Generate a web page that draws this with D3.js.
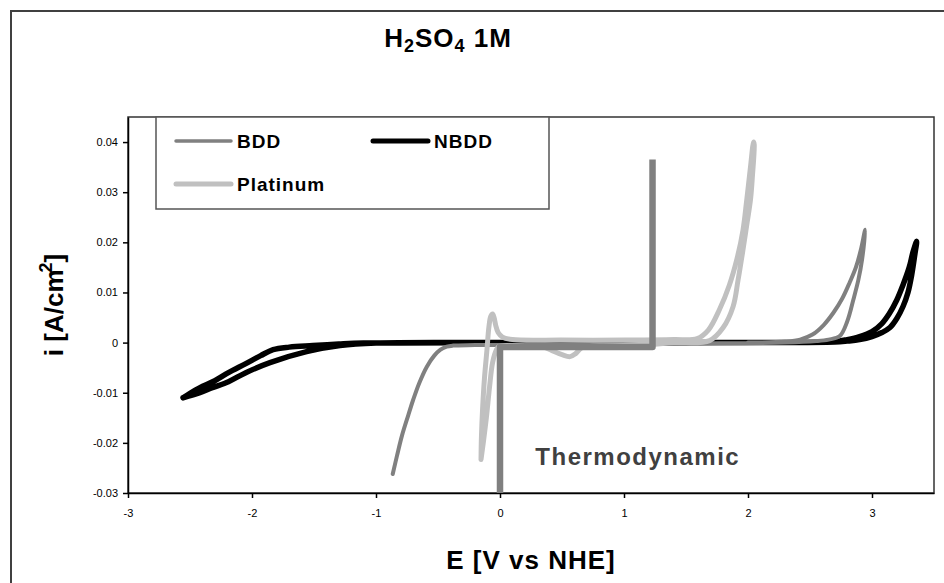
<!DOCTYPE html>
<html>
<head>
<meta charset="utf-8">
<script src="https://cdn.jsdelivr.net/npm/d3@7"></script>
<style>
  body { margin: 0; background: #fff; }
  svg { display: block; font-family: "Liberation Sans", Arial, sans-serif; }
  .axis text { font-size: 11px; fill: #000; }
  .axis path, .axis line { stroke: #000; stroke-width: 1.5; }
</style>
</head>
<body>
<div id="chart"></div>
<script>
"use strict";

// E [V vs NHE], i [A/cm2] pairs
var bddCurve = [
  [-0.865, -0.0262], [-0.83, -0.0225], [-0.79, -0.0185], [-0.74, -0.0145], [-0.70, -0.0114],
  [-0.65, -0.0080], [-0.59, -0.0048], [-0.53, -0.0026], [-0.48, -0.0014], [-0.43, -0.0008],
  [-0.38, -0.0006], [-0.2, -0.0005], [0.5, -0.0004], [1.5, -0.0002], [2.3, 0.0],
  [2.55, 0.0003], [2.65, 0.0006], [2.74, 0.0013], [2.80, 0.0042], [2.85, 0.0086],
  [2.89, 0.0125], [2.92, 0.0166], [2.945, 0.0225],
  [2.91, 0.0185], [2.87, 0.0150], [2.82, 0.0120], [2.76, 0.0088], [2.69, 0.0060],
  [2.61, 0.0035], [2.52, 0.0016], [2.42, 0.0006], [2.3, 0.0002], [2.0, 0.0]
];

var nbddCurve = [
  [-2.556, -0.0110], [-2.5, -0.0101], [-2.42, -0.0090], [-2.3, -0.0076], [-2.19, -0.0060],
  [-2.05, -0.0042], [-1.93, -0.0026], [-1.83, -0.0014], [-1.7, -0.0009], [-1.51, -0.0006],
  [-1.3, -0.0003], [-1.1, -0.0001], [0, 0], [1, 0], [2, 0], [2.7, 0.0001],
  [2.8, 0.0003], [2.9, 0.0006], [3.0, 0.0012], [3.08, 0.0020], [3.145, 0.0030],
  [3.2, 0.0048], [3.25, 0.0072], [3.29, 0.0100], [3.32, 0.0135], [3.345, 0.0175],
  [3.36, 0.0202],
  [3.33, 0.0180], [3.30, 0.0150], [3.25, 0.0115], [3.20, 0.0085], [3.14, 0.0058],
  [3.08, 0.0038], [3.0, 0.0022], [2.9, 0.0012], [2.8, 0.0006], [2.7, 0.0002],
  [2, 0], [0, 0], [-1.0, -0.0001],
  [-1.29, -0.0006], [-1.56, -0.0018], [-1.855, -0.0040], [-2.05, -0.0060],
  [-2.19, -0.0078], [-2.32, -0.0090], [-2.42, -0.0100], [-2.556, -0.0110]
];

var platinumCurve = [
  [-0.153, -0.0233], [-0.15, -0.0190], [-0.14, -0.0130], [-0.125, -0.0070], [-0.105, -0.0014],
  [-0.09, 0.0030], [-0.075, 0.0052], [-0.06, 0.0057], [-0.048, 0.0050], [-0.035, 0.0035],
  [-0.015, 0.0020], [0.02, 0.0011], [0.1, 0.0006], [0.5, 0.0005], [1.0, 0.0005],
  [1.4, 0.0006], [1.59, 0.0008], [1.68, 0.0025], [1.77, 0.0066], [1.85, 0.0115],
  [1.91, 0.0166], [1.96, 0.0225], [1.99, 0.0285], [2.02, 0.0350], [2.045, 0.0400],
  [2.05, 0.0395], [2.035, 0.0330], [2.02, 0.0285], [1.99, 0.0235], [1.96, 0.0186],
  [1.92, 0.0125], [1.88, 0.0072], [1.80, 0.0030], [1.69, 0.0004], [1.4, 0.0],
  [1.2, -0.0004], [0.8, -0.0007], [0.66, -0.0010], [0.61, -0.0022], [0.565, -0.0028],
  [0.5, -0.0024], [0.42, -0.0016], [0.35, -0.0009], [0.2, -0.0008], [0.05, -0.0006],
  [-0.01, -0.0008], [-0.03, -0.0015], [-0.06, -0.0040], [-0.085, -0.0090],
  [-0.11, -0.0150], [-0.135, -0.0200], [-0.153, -0.0233]
];

var thermoLine = [[0, -0.03], [0, -0.0009], [1.23, -0.0009], [1.23, 0.0365]];

var xTicks = [-3, -2, -1, 0, 1, 2, 3];
var yTicks = [-0.03, -0.02, -0.01, 0, 0.01, 0.02, 0.03, 0.04];

var legendItems = [
  { name: "BDD", color: "#808080", width: 3.5 },
  { name: "NBDD", color: "#000000", width: 5 },
  { name: "Platinum", color: "#c0c0c0", width: 5 }
];

var W = 944, H = 583;
var margin = { top: 117, right: 10, bottom: 90, left: 128 },
  width = W - margin.left - margin.right,
  height = H - margin.top - margin.bottom;

var svg = d3.select("#chart").append("svg")
  .attr("width", W)
  .attr("height", H);

// outer chart frame (runs off the right and bottom edge)
svg.append("rect")
  .attr("x", 11).attr("y", 11)
  .attr("width", W + 20).attr("height", H + 20)
  .attr("fill", "#fff")
  .attr("stroke", "#404040")
  .attr("stroke-width", 2);

var x = d3.scaleLinear().domain([-3, 3.5]).range([0, width]),
  y = d3.scaleLinear().domain([-0.03, 0.045]).range([height, 0]);

var g = svg.append("g").attr("transform", "translate(" + margin.left + "," + margin.top + ")");

// plot border
g.append("rect")
  .attr("width", width).attr("height", height)
  .attr("fill", "none")
  .attr("stroke", "#333")
  .attr("stroke-width", 1.5);

var signed = function(s, d) { return (d < 0 ? "-" : "") + s; };

g.append("g")
  .attr("class", "axis")
  .attr("transform", "translate(0," + height + ")")
  .call(d3.axisBottom(x).tickValues(xTicks).tickSize(5).tickSizeOuter(0).tickPadding(11)
    .tickFormat(function(d) { return signed(Math.abs(d), d); }));

g.append("g")
  .attr("class", "axis")
  .call(d3.axisLeft(y).tickValues(yTicks).tickSize(5).tickSizeOuter(0).tickPadding(5)
    .tickFormat(function(d) { return d === 0 ? "0" : signed(Math.abs(d).toFixed(2), d); }));

var line = d3.line()
  .x(function(d) { return x(d[0]); })
  .y(function(d) { return y(d[1]); })
  .curve(d3.curveCatmullRom.alpha(0.5));

var plot = g.append("g");

plot.append("path").datum(nbddCurve)
  .attr("d", line).attr("fill", "none")
  .attr("stroke", "#000").attr("stroke-width", 5.5)
  .attr("stroke-linecap", "round").attr("stroke-linejoin", "round");

plot.append("path").datum(bddCurve)
  .attr("d", line).attr("fill", "none")
  .attr("stroke", "#808080").attr("stroke-width", 4)
  .attr("stroke-linecap", "round").attr("stroke-linejoin", "round");

plot.append("path").datum(platinumCurve)
  .attr("d", line).attr("fill", "none")
  .attr("stroke", "#c0c0c0").attr("stroke-width", 5)
  .attr("stroke-linecap", "round").attr("stroke-linejoin", "round");

plot.append("path").datum(thermoLine)
  .attr("d", d3.line().x(function(d) { return x(d[0]); }).y(function(d) { return y(d[1]); }))
  .attr("fill", "none")
  .attr("stroke", "#808080").attr("stroke-width", 6.5)
  .attr("stroke-linejoin", "round");

g.append("text")
  .attr("x", x(0.285)).attr("y", y(-0.0245))
  .attr("font-size", 24).attr("font-weight", "bold")
  .attr("letter-spacing", 1.5)
  .attr("fill", "#404040")
  .text("Thermodynamic");

// legend
var legend = svg.append("g").attr("transform", "translate(156,117)");
legend.append("rect")
  .attr("width", 393).attr("height", 92)
  .attr("fill", "#fff")
  .attr("stroke", "#555").attr("stroke-width", 1.5);

var legendPos = [[20, 24], [217, 24], [20, 67]];
legendItems.forEach(function(item, i) {
  var p = legendPos[i];
  var row = legend.append("g").attr("transform", "translate(" + p[0] + "," + p[1] + ")");
  row.append("line")
    .attr("x1", 0).attr("x2", 55)
    .attr("stroke", item.color).attr("stroke-width", item.width)
    .attr("stroke-linecap", "round");
  row.append("text")
    .attr("x", 61).attr("dy", "0.35em")
    .attr("font-size", 19).attr("font-weight", "bold")
    .attr("letter-spacing", 1)
    .text(item.name);
});

// title
var title = svg.append("text")
  .attr("x", 448).attr("y", 47)
  .attr("text-anchor", "middle")
  .attr("font-size", 26).attr("font-weight", "bold")
  .attr("letter-spacing", 1);
title.append("tspan").text("H");
title.append("tspan").attr("font-size", 18).attr("dy", 5).text("2");
title.append("tspan").attr("dy", -5).text("SO");
title.append("tspan").attr("font-size", 18).attr("dy", 5).text("4");
title.append("tspan").attr("dy", -5).text(" 1M");

// axis titles
svg.append("text")
  .attr("x", margin.left + width / 2).attr("y", 569)
  .attr("text-anchor", "middle")
  .attr("font-size", 26).attr("font-weight", "bold")
  .attr("letter-spacing", 1)
  .text("E [V vs NHE]");

var yTitle = svg.append("text")
  .attr("transform", "translate(63,305) rotate(-90)")
  .attr("text-anchor", "middle")
  .attr("font-size", 26).attr("font-weight", "bold");
yTitle.append("tspan").text("i [A/cm");
yTitle.append("tspan").attr("font-size", 18).attr("dy", -11).attr("dx", -3).text("2");
yTitle.append("tspan").attr("dy", 11).text("]");
</script>
</body>
</html>
